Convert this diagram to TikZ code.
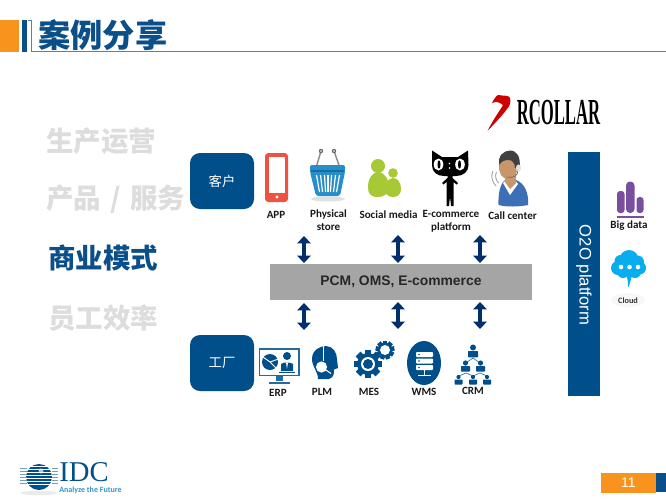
\documentclass[tikz,border=0pt]{standalone}
\usepackage{fontspec}
\setmainfont{Liberation Sans}
\newfontfamily\cjk{Noto Sans CJK SC}
\newfontfamily\carl{Carlito}
\newfontfamily\tms{Liberation Serif}
\usetikzlibrary{arrows.meta,shapes.geometric}
\definecolor{idcblue}{HTML}{0B4F8A}
\definecolor{boxblue}{HTML}{004F8B}
\definecolor{orng}{HTML}{F8941D}
\definecolor{fade}{HTML}{DDDDDD}
\definecolor{arrowblue}{HTML}{012F6B}
\definecolor{barg}{HTML}{A5A5A5}
\definecolor{phone}{HTML}{EF5240}
\definecolor{basket}{HTML}{1C88C7}
\definecolor{leaf}{HTML}{A6C935}
\definecolor{purp}{HTML}{7A4E9F}
\definecolor{cyanc}{HTML}{06AEEF}
\definecolor{skin}{HTML}{C9966B}
\definecolor{shirt}{HTML}{3C6FB6}
\tikzset{
 x=0.75pt,y=-0.75pt,
 side/.style={font=\cjk\bfseries\fontsize{20.6pt}{22pt}\selectfont,anchor=west,inner sep=0pt,text=fade},
 sidecur/.style={side,text=idcblue},
 keybox/.style={fill=boxblue,rounded corners=7.5pt,text=white,font=\cjk\fontsize{10pt}{12pt}\selectfont,inner sep=0pt},
 lab/.style={font=\carl\bfseries\fontsize{8.3pt}{9.7pt}\selectfont,align=center,inner sep=0pt,text=black!90},
 dblarrow/.style={arrowblue,line width=3.7pt,{Triangle[width=10pt,length=5.5pt]}-{Triangle[width=10pt,length=5.5pt]},shorten >=0pt,shorten <=0pt},
}
\newcommand{\gearicon}[4]{% x y r teeth
 \fill[boxblue] (#1,#2) circle (#3*0.78);
 \foreach \a in {1,...,#4}{
  \fill[boxblue,rotate around={\a*360/#4:(#1,#2)}] (#1-#3*0.24,#2) rectangle (#1+#3*0.24,#2-#3);
 }
}
\newcommand{\orgperson}[5]{% x headY r bodyTop halfWidth; body height from halfWidth
 \fill[boxblue] (#1,#2) circle (#3);
 \fill[boxblue,rounded corners=0.5pt] (#1-#5,#4+#5*1.25) -- (#1-#5,#4) -- (#1+#5,#4) -- (#1+#5,#4+#5*1.25) -- cycle;
}
\begin{document}
\begin{tikzpicture}
\useasboundingbox (0,0) rectangle (666,500);
\fill[white] (0,0) rectangle (666,500);
% header
\fill[orng] (0,20) rectangle (19,52);
\fill[idcblue] (22,20) rectangle (27,52);
\draw[idcblue!70,line width=0.6pt] (27.5,20) -- (31.5,20) -- (31.5,51.5) -- (666,51.5);
\node[font=\cjk\bfseries\fontsize{24.2pt}{26pt}\selectfont,text=idcblue,anchor=west,inner sep=0pt] (title) at (38,35) {案例分享};
% side menu
\node[side] (m1) at (46,141) {生产运营};
\node[side] (m2) at (46,199) {产品\hspace{7pt}/\hspace{7pt}服务};
\node[sidecur] (m3) at (48,258) {商业模式};
\node[side] (m4) at (48,318) {员工效率};
% logo
\fill[red!80!black] (487.5,131) .. controls (494,118) and (499,112) .. (503,105) .. controls (499,102) and (496,101) .. (492,103) .. controls (494,99) and (496,96) .. (498,95) .. controls (503,96) and (509,95) .. (510,98) .. controls (511,102) and (510,106) .. (507,109) .. controls (502,116) and (494,124) .. (487.5,131) -- cycle;
\node[inner sep=0pt,anchor=west] (rcollar) at (516.5,112.5) {\scalebox{0.455}[1]{\tms\bfseries\fontsize{27.5pt}{28pt}\selectfont RCOLLAR}};
% boxes
\node[keybox,minimum width=48pt,minimum height=42pt] (kehu) at (222,181) {客户};
\node[keybox,minimum width=48pt,minimum height=42pt] (gongchang) at (222,363) {工厂};
\node[fill=boxblue,minimum width=24pt,minimum height=183pt,inner sep=0pt] (o2obar) at (584,274) {};
\node[text=white,rotate=-90,font=\fontsize{12.5pt}{14pt}\selectfont,inner sep=0pt] (o2o) at (584,275) {O2O platform};
\node[fill=barg,minimum width=196.5pt,minimum height=27pt,inner sep=0pt,font=\bfseries\fontsize{10.4pt}{13pt}\selectfont,text=black!85] (pcm) at (401,282) {\raisebox{-1.2pt}{PCM, OMS, E-commerce}};
% arrows
\foreach \n/\x/\a/\b/\c/\d in {1/304/236/263/303/330,2/398/235/263/302/329,3/480/235/263/302/329}{
 \coordinate (ut\n) at (\x,\a); \coordinate (ub\n) at (\x,\b);
 \coordinate (lt\n) at (\x,\c); \coordinate (lb\n) at (\x,\d);
 \draw[dblarrow] (ut\n) -- (ub\n);
 \draw[dblarrow] (lt\n) -- (lb\n);
}
% APP
\fill[phone,rounded corners=2.5pt] (265,153) rectangle (288,202);
\fill[white] (268.5,157) rectangle (284.5,193);
\fill[white] (277,197) circle (1.7);
\node[lab] (app) at (276,215) {APP};
% basket
\fill[black!12] (328,199) ellipse [x radius=17,y radius=2.5];
\draw[black!45,line width=1.1pt] (316,168) -- (321,151) (340,168) -- (334,151);
\fill[black!60] (321,151) circle (2.2) (334,151) circle (2.2);
\fill[white] (321,151) circle (0.8) (334,151) circle (0.8);
\fill[basket!95!white,rounded corners=1.5pt] (310,165) -- (345,165) -- (345,172) -- (340,196) -- (316,196) -- (310,172) -- cycle;
\fill[basket!80!black] (311,170) rectangle (344,172);
\foreach \sx/\bx in {316.5/319.5,320.5/322.5,324.5/325.5,328/328,331.5/330.5,335.5/333.5,339.5/336.5}{
 \draw[white,line width=0.9pt] (\sx,175) -- (\bx,192);
}
\node[lab] (phys) at (328.5,219.8) {Physical\\store};
% social
\fill[leaf] (378,166) circle (7);
\fill[leaf] (377.5,197) .. controls (370,197) and (368,193) .. (368,187) .. controls (368,178) and (373,172) .. (378,172) .. controls (384,172) and (389,179) .. (389,187) .. controls (389,193) and (385,197) .. (377.5,197) -- cycle;
\fill[leaf] (393,173) circle (4.8);
\fill[leaf] (393,197) .. controls (388,197) and (385,194) .. (385,189) .. controls (385,183) and (389,178) .. (393,178) .. controls (398,178) and (401,183) .. (401,189) .. controls (401,194) and (398,197) .. (393,197) -- cycle;
\node[lab] (social) at (388.5,215) {Social media};
% cat
\fill[black] (432,150.5) -- (442,157) -- (458,157) -- (468,150.5) -- (468.5,165) .. controls (468.5,172) and (463,176) .. (456,176) -- (444,176) .. controls (437,176) and (432,172) .. (432,165) -- cycle;
\fill[black] (447.5,175) -- (452.5,175) -- (452.5,178) -- (458,183) -- (456.5,184.5) -- (453.5,182) -- (453.5,206) -- (451,206) -- (450.3,199) -- (449.7,199) -- (449,206) -- (446.5,206) -- (446.5,182) -- (443.5,184.5) -- (442,183) -- (447.5,178) -- cycle;
\fill[white] (438.5,164.5) ellipse [x radius=4.8,y radius=6];
\fill[white] (460,164.5) ellipse [x radius=4.8,y radius=6];
\fill[black] (439,164.5) ellipse [x radius=1.5,y radius=4.2];
\fill[black] (459.5,164.5) ellipse [x radius=1.5,y radius=4.2];
\fill[white] (449.5,163.5) circle (0.8) (449.5,168) circle (0.8);
\node[lab] (ecom) at (451,221.5) {E-commerce\\platform};
% call center
\draw[black!35,line width=0.7pt] (493,171) .. controls (490.5,176) and (492,182) .. (496,186) (496.5,172) .. controls (494.5,176) and (496,180) .. (498.5,183);
\fill[shirt] (498.5,205) .. controls (498,194) and (500,184) .. (505,180) -- (516,180) .. controls (524,183) and (529,192) .. (528,205) .. controls (518,207) and (506,207) .. (498.5,205) -- cycle;
\fill[white] (503,183) -- (510,195) -- (518,184) -- (515,180) -- (506,180) -- cycle;
\fill[skin] (505,174) -- (516,172) -- (516,183) -- (510,189) -- (505,182) -- cycle;
\fill[skin] (500,160) .. controls (498,168) and (499,176) .. (505,178.5) .. controls (510,180) and (517,176) .. (518,168) -- (518,158) -- cycle;
\fill[black!75] (499.5,165) .. controls (497,156) and (504,150.5) .. (510,150.5) .. controls (517,150.5) and (521,157) .. (519.5,168) -- (515,168) .. controls (515,163) and (512,160) .. (509,160) .. controls (505,160) and (501,161) .. (499.5,165) -- cycle;
\draw[black!60,line width=0.5pt] (518,170) .. controls (518,176) and (514,178) .. (507,177);
\fill[black!12] (518.5,168) ellipse [x radius=2.6,y radius=3.6];
\node[lab] (call) at (512.5,216) {Call center};
% ERP
\draw[boxblue!85,line width=1.25pt] (259.5,349) rectangle (299,375.5);
\fill[boxblue!85] (276,376) rectangle (283,381);
\fill[boxblue!85] (269,381.5) rectangle (290,384);
\fill[boxblue] (270,362) circle (8);
\draw[white,line width=0.7pt] (270,362) -- (278.5,359) (270,362) -- (276,368) (270,362) -- (263,357);
\fill[boxblue] (287,356) circle (4);
\fill[boxblue] (281,371) -- (281,364) .. controls (283,362) and (291,362) .. (293,364) -- (293,371) -- cycle;
\fill[white] (286,362.5) -- (288,362.5) -- (287,369) -- cycle;
\fill[boxblue] (279,371.5) rectangle (295,373);
\node[lab] (erp) at (278,393) {ERP};
% PLM
\fill[boxblue] (329,379) -- (318,379) .. controls (318,371) and (312,367) .. (312,359) .. controls (312,350) and (320,346) .. (326,346) .. controls (333,346) and (337,353) .. (337,359) -- (338,368) -- (334,369.5) .. controls (334,374) and (334,377) .. (329,379) -- cycle;
\draw[white,line width=0.55pt] (323,346) -- (323,361);
\fill[white] (321.5,367) circle (5.6);
\draw[white,line width=0.8pt] (323,368) -- (331,373.5);
\node[lab] (plm) at (322,392) {PLM};
% MES
\gearicon{368}{364}{14}{8}
\fill[white] (368,364) circle (7);
\fill[boxblue] (368,364) circle (5);
\gearicon{385}{350}{9.5}{9}
\fill[white] (385,350) circle (5);
\node[lab] (mes) at (369,392) {MES};
% WMS
\fill[boxblue] (424,363) ellipse [x radius=17,y radius=22];
\foreach \y in {352,358.5,365}{
 \fill[white,rounded corners=0.6pt] (416,\y) rectangle (433,\y+5);
 \fill[boxblue] (419,\y+2.5) circle (0.9);
}
\draw[white,line width=0.7pt] (424.5,370) -- (424.5,375) (418,375) -- (431,375);
\node[lab] (wms) at (424,392) {WMS};
% CRM
\draw[boxblue!80,line width=0.5pt] (473,358) -- (466,363) (473,358) -- (480,363) (466,373) -- (459,376) (466,373) -- (473,376) (480,373) -- (473,376) (480,373) -- (487,376);
\orgperson{473}{347.5}{3}{351}{5}
\orgperson{465.5}{363}{2.6}{366}{4.5}
\orgperson{480.5}{363}{2.6}{366}{4.5}
\orgperson{458.5}{377}{2.1}{379.5}{4}
\orgperson{473}{377}{2.1}{379.5}{4}
\orgperson{487}{377}{2.1}{379.5}{4}
\node[lab] (crm) at (473,391) {CRM};
% Big data
\fill[purp,rounded corners=2.2pt] (617,213) -- (617,191) -- (624.5,191) -- (624.5,213) -- cycle;
\fill[purp,rounded corners=3pt] (626,213) -- (626,181.5) -- (634.5,181.5) -- (634.5,213) -- cycle;
\fill[purp,rounded corners=2.2pt] (636.5,213) -- (636.5,197) -- (643.5,197) -- (643.5,213) -- cycle;
\fill[purp] (616.5,216) rectangle (644,217.5);
\node[lab] (big) at (629,226) {Big data};
% cloud
\fill[black!3] (628,300) ellipse [x radius=17,y radius=7];
\fill[cyanc] (629,259.5) circle (9.5) (620.5,261) circle (6) (637.5,262) circle (6.5) (618,268) circle (7) (639.5,268) circle (6.5) (623,272) circle (6) (635,272) circle (6) (629,266) circle (10);
\fill[cyanc] (626,275) .. controls (628,279) and (628,283) .. (628,287) .. controls (629,287) and (630,283) .. (632,275) -- cycle;
\fill[white] (621,267) circle (2.3) (629.5,267) circle (2.3) (638,267) circle (2.3);
\node[font=\carl\bfseries\fontsize{6.2pt}{7pt}\selectfont,inner sep=0pt,text=black!80] (cloud) at (628,301) {Cloud};
% IDC logo
\fill[black!8] (39,493) ellipse [x radius=18,y radius=2.2];
\fill[boxblue] (39,477) circle (13);
\fill[white!70!boxblue] (41,471) circle (2.5);
\foreach \y in {466.5,469.5,472.5,475.5,478.5,481.5,484.5}{
 \draw[white,line width=0.55pt] (25,\y) -- (53,\y);
}
\foreach \y in {468,471,474,477,480,483}{
 \draw[boxblue!55,line width=0.5pt] (20,\y) -- (26.5,\y) (51.5,\y) -- (58,\y);
}
\node[anchor=west,inner sep=0pt,text=boxblue,font=\tms\fontsize{21.5pt}{22pt}\selectfont] (idc) at (59,472.5) {IDC};
\node[anchor=west,inner sep=0pt,text=basket!90,font=\carl\bfseries\fontsize{6pt}{7pt}\selectfont] (analyze) at (59,490.5) {Analyze the Future};
% page number
\node[fill=orng,minimum width=41.25pt,minimum height=14.5pt,inner sep=0pt,text=white,font=\fontsize{10.5pt}{11pt}\selectfont] (page) at (628.5,483) {11};
\fill[idcblue] (656,473) rectangle (666,492);
\end{tikzpicture}
\end{document}
